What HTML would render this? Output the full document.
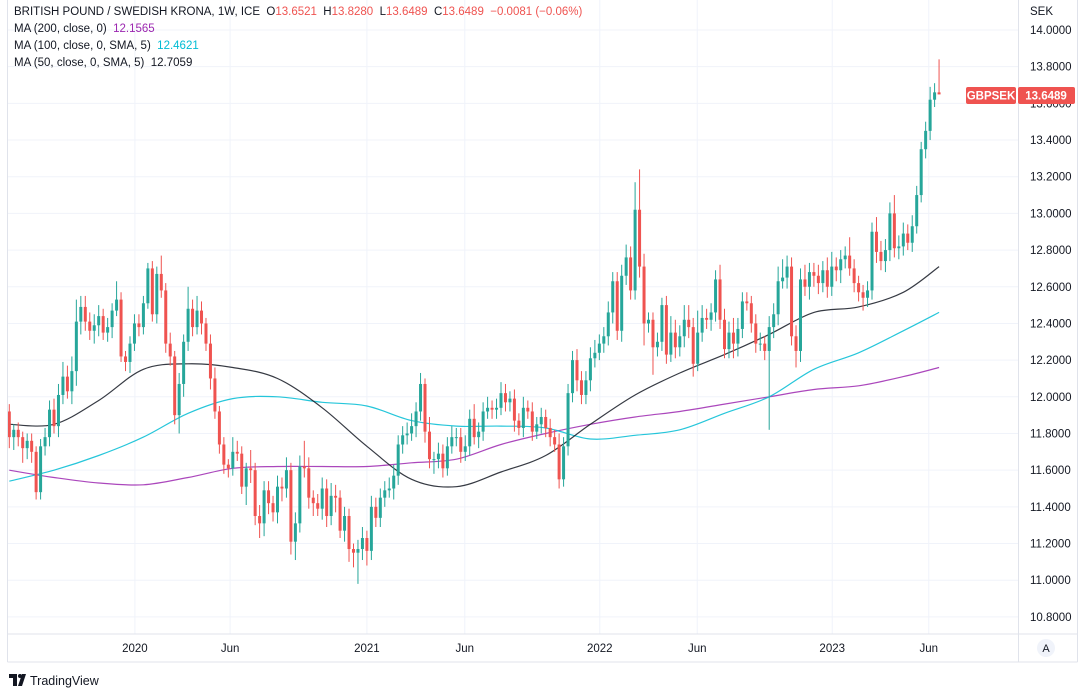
<!DOCTYPE html>
<html><head><meta charset="utf-8">
<style>
html,body{margin:0;padding:0;background:#fff;}
body{width:1078px;height:695px;overflow:hidden;font-family:"Liberation Sans",sans-serif;}
svg{display:block;}
</style></head>
<body>
<svg id="chart" width="1078" height="695" xmlns="http://www.w3.org/2000/svg" font-family="Liberation Sans, sans-serif">
  <g id="grid"></g>
  <g id="mas"></g>
  <g id="candles"></g>
  <g id="axes"></g>
  <g font-size="11.5" fill="#131722">
    <text x="14" y="15">BRITISH POUND / SWEDISH KRONA, 1W, ICE&#160;&#160;O<tspan fill="#ef5350">13.6521</tspan>&#160;&#160;H<tspan fill="#ef5350">13.8280</tspan>&#160;&#160;L<tspan fill="#ef5350">13.6489</tspan>&#160;&#160;C<tspan fill="#ef5350">13.6489</tspan>&#160;&#160;<tspan fill="#ef5350">−0.0081 (−0.06%)</tspan></text>
    <text x="14" y="32">MA (200, close, 0)&#160;&#160;<tspan fill="#9c27b0">12.1565</tspan></text>
    <text x="14" y="49">MA (100, close, 0, SMA, 5)&#160;&#160;<tspan fill="#00bcd4">12.4621</tspan></text>
    <text x="14" y="66">MA (50, close, 0, SMA, 5)&#160;&#160;12.7059</text>
  </g>
  <text x="1030" y="15" font-size="11.5" fill="#131722">SEK</text>
  <g>
    <rect x="966" y="87" width="50" height="17" rx="2" fill="#ef5350"/>
    <text x="991" y="99.5" font-size="11.5" fill="#fff" text-anchor="middle" font-weight="bold">GBPSEK</text>
    <rect x="1018" y="87" width="57" height="17" rx="2" fill="#ef5350"/>
    <text x="1046" y="99.5" font-size="11.5" fill="#fff" text-anchor="middle" font-weight="bold">13.6489</text>
  </g>
  <g>
    <circle cx="1046" cy="648" r="9" fill="#f0f3fa"/>
    <text x="1046" y="652" font-size="11" fill="#131722" text-anchor="middle">A</text>
  </g>
  <g>
    <path d="M9 674 h8 v12 h-4 v-8 h-4z M18 686 l4 -12 h4 l-4 12z" fill="#131722"/>
    <circle cx="20" cy="676" r="2" fill="#131722"/>
    <text x="30" y="685" font-size="12.5" fill="#131722">TradingView</text>
  </g>
</svg>
<script>
const closes=[11.78,11.82,11.78,11.72,11.76,11.70,11.48,11.73,11.78,11.93,11.84,12.01,12.11,12.03,12.14,12.41,12.49,12.41,12.36,12.39,12.44,12.35,12.38,12.47,12.53,12.22,12.19,12.29,12.40,12.38,12.51,12.70,12.45,12.67,12.58,12.29,12.22,11.90,12.07,12.30,12.48,12.38,12.47,12.40,12.29,12.10,11.92,11.74,11.63,11.61,11.70,11.69,11.51,11.61,
11.60,11.35,11.31,11.49,11.42,11.37,11.51,11.50,11.60,11.21,11.31,11.62,11.61,11.45,11.42,11.39,11.50,11.35,11.46,11.45,11.27,11.35,11.17,11.15,11.17,11.23,11.16,11.40,11.34,11.45,11.49,11.50,11.57,11.74,11.79,11.80,11.84,11.92,12.07,11.81,11.66,11.66,11.69,11.61,11.73,11.78,11.78,11.70,11.73,11.88,11.78,11.81,11.92,11.94,
11.93,11.94,12.02,11.97,11.99,11.87,11.83,11.94,11.92,11.81,11.85,11.89,11.83,11.78,11.74,11.55,11.73,12.02,12.20,12.09,12.01,12.09,12.21,12.24,12.29,12.33,12.46,12.63,12.36,12.66,12.76,12.58,13.02,12.71,12.40,12.42,12.27,12.30,12.50,12.23,12.35,12.27,12.33,12.42,12.38,12.18,12.35,12.43,12.42,12.46,12.64,12.42,12.26,12.35,
12.29,12.37,12.52,12.51,12.40,12.29,12.29,12.25,12.38,12.45,12.63,12.65,12.71,12.33,12.25,12.64,12.60,12.68,12.66,12.62,12.69,12.60,12.71,12.69,12.75,12.77,12.70,12.62,12.57,12.54,12.58,12.90,12.79,12.74,12.80,13.00,12.81,12.82,12.89,12.84,12.93,13.10,13.35,13.45,13.62,13.66,13.6489];
const firstOpen=11.92;
const upperWick=[0.04,0.03,0.04,0.03,0.04,0.04,0.03,0.04,0.05,0.05,0.06,0.06,0.08,0.06,0.08,0.12,0.06,0.06,0.05,0.06,0.06,0.04,0.05,0.04,0.10,0.04,0.03,0.04,0.05,0.05,0.04,0.03,0.04,0.04,0.10,0.04,0.06,0.03,0.06,0.04,0.12,0.05,0.08,0.05,0.03,0.05,0.06,0.03,0.04,0.03,0.08,0.06,0.04,0.03,
0.10,0.04,0.06,0.05,0.05,0.04,0.06,0.05,0.07,0.04,0.06,0.06,0.14,0.06,0.04,0.05,0.06,0.05,0.07,0.06,0.04,0.05,0.04,0.03,0.05,0.06,0.04,0.06,0.05,0.05,0.05,0.06,0.06,0.05,0.05,0.06,0.07,0.05,0.06,0.03,0.08,0.04,0.06,0.05,0.05,0.06,0.05,0.05,0.06,0.05,0.08,0.05,0.05,0.06,
0.04,0.05,0.06,0.05,0.04,0.05,0.04,0.06,0.04,0.05,0.04,0.05,0.04,0.05,0.04,0.06,0.05,0.05,0.05,0.06,0.05,0.05,0.06,0.07,0.05,0.05,0.06,0.05,0.05,0.06,0.07,0.06,0.15,0.22,0.07,0.04,0.04,0.05,0.04,0.05,0.09,0.07,0.06,0.08,0.08,0.05,0.12,0.07,0.05,0.05,0.05,0.08,0.06,0.06,
0.08,0.06,0.05,0.05,0.04,0.05,0.06,0.04,0.06,0.06,0.08,0.10,0.06,0.05,0.06,0.06,0.08,0.05,0.05,0.06,0.05,0.07,0.08,0.05,0.05,0.05,0.10,0.05,0.04,0.04,0.05,0.05,0.08,0.06,0.06,0.06,0.10,0.06,0.06,0.05,0.06,0.05,0.04,0.05,0.07,0.05,0.18];
const lowerWick=[0.06,0.07,0.05,0.08,0.06,0.06,0.04,0.04,0.05,0.05,0.04,0.06,0.05,0.04,0.07,0.08,0.07,0.05,0.05,0.07,0.06,0.04,0.05,0.06,0.03,0.03,0.05,0.06,0.04,0.05,0.04,0.03,0.04,0.05,0.04,0.05,0.05,0.05,0.10,0.07,0.05,0.05,0.04,0.06,0.04,0.06,0.04,0.05,0.05,0.05,0.04,0.04,0.04,0.10,
0.07,0.05,0.08,0.07,0.06,0.05,0.06,0.07,0.05,0.07,0.10,0.05,0.05,0.06,0.07,0.04,0.06,0.06,0.05,0.08,0.04,0.06,0.07,0.08,0.17,0.06,0.08,0.05,0.05,0.05,0.05,0.04,0.06,0.05,0.05,0.05,0.04,0.06,0.05,0.06,0.05,0.08,0.05,0.05,0.04,0.04,0.05,0.06,0.05,0.05,0.04,0.06,0.05,0.04,
0.05,0.05,0.04,0.05,0.05,0.06,0.04,0.05,0.04,0.05,0.04,0.05,0.05,0.05,0.04,0.05,0.04,0.05,0.05,0.06,0.05,0.05,0.06,0.05,0.04,0.05,0.05,0.06,0.05,0.06,0.05,0.05,0.05,0.06,0.12,0.05,0.15,0.05,0.05,0.05,0.04,0.06,0.05,0.06,0.06,0.07,0.04,0.05,0.05,0.06,0.05,0.05,0.05,0.05,
0.08,0.07,0.05,0.04,0.05,0.05,0.04,0.05,0.43,0.06,0.06,0.04,0.06,0.05,0.09,0.06,0.05,0.07,0.06,0.06,0.05,0.06,0.05,0.06,0.07,0.05,0.04,0.05,0.05,0.07,0.05,0.05,0.06,0.05,0.06,0.06,0.05,0.06,0.05,0.04,0.05,0.04,0.04,0.05,0.05,0.04,0.00];
const maIndex=[0,10,20,30,40,50,60,70,80,90,100,110,120,130,140,150,160,170,180,190,200,208];
const ma50=[11.85,11.85,11.98,12.15,12.18,12.16,12.10,11.94,11.73,11.55,11.51,11.59,11.68,11.85,12.01,12.13,12.23,12.34,12.46,12.49,12.57,12.71];
const ma100=[11.54,11.60,11.68,11.78,11.91,11.99,12.00,11.97,11.95,11.87,11.84,11.84,11.83,11.77,11.79,11.82,11.91,12.00,12.15,12.24,12.36,12.46];
const ma200=[11.60,11.56,11.53,11.52,11.56,11.61,11.62,11.62,11.62,11.64,11.66,11.74,11.80,11.85,11.89,11.92,11.96,12.00,12.04,12.06,12.11,12.16];
const yTicks=[10.8,11.0,11.2,11.4,11.6,11.8,12.0,12.2,12.4,12.6,12.8,13.0,13.2,13.4,13.6,13.8,14.0];
const timeLabels=["2020","Jun","2021","Jun","2022","Jun","2023","Jun"];
const timeIndex=[28.1,49.4,80.0,101.9,132.1,153.9,184.1,205.7];

const NS="http://www.w3.org/2000/svg";
const PL=7,PR=1018,PT=0,PB=634;
function xOf(i){return 9.3+4.47*i;}
function yOf(v){return 30+(14-v)*183.4;}
function mk(tag,attrs,parent){const e=document.createElementNS(NS,tag);for(const k in attrs)e.setAttribute(k,attrs[k]);parent.appendChild(e);return e;}

const grid=document.getElementById('grid');
const axes=document.getElementById('axes');
yTicks.forEach(v=>{
  const y=yOf(v);
  const gl=mk('line',{x1:PL,x2:PR,y1:y,y2:y,stroke:'#f0f3fa','stroke-width':1},grid);
  
  
  const t=mk('text',{x:1030,y:y+4,'font-size':11.5,fill:'#131722'},axes);
  t.textContent=v.toFixed(4);
  
  
});
timeLabels.forEach((lab,k)=>{
  const x=xOf(timeIndex[k]);
  const gl=mk('line',{x1:x,x2:x,y1:PT,y2:PB,stroke:'#f0f3fa','stroke-width':1},grid);
  
  
  const t=mk('text',{x:x,y:652,'font-size':11.5,fill:'#131722','text-anchor':'middle'},axes);
  t.textContent=lab;
  
  
});
[[PL,0,PL,662],[PR,0,PR,662],[PL,PB,1077,PB],[PL,662,1077,662],[1077,0,1077,662]].forEach(a=>{
  const l=mk('line',{x1:a[0]+0.5,y1:a[1],x2:a[2]+0.5,y2:a[3],stroke:'#e0e3eb','stroke-width':1},axes);
  
  
});

function smoothPath(pts){
  let d='M'+pts[0][0].toFixed(1)+','+pts[0][1].toFixed(1);
  for(let i=0;i<pts.length-1;i++){
    const p0=pts[Math.max(0,i-1)],p1=pts[i],p2=pts[i+1],p3=pts[Math.min(pts.length-1,i+2)];
    const c1x=p1[0]+(p2[0]-p0[0])/6,c1y=p1[1]+(p2[1]-p0[1])/6;
    const c2x=p2[0]-(p3[0]-p1[0])/6,c2y=p2[1]-(p3[1]-p1[1])/6;
    d+=' C'+c1x.toFixed(1)+','+c1y.toFixed(1)+' '+c2x.toFixed(1)+','+c2y.toFixed(1)+' '+p2[0].toFixed(1)+','+p2[1].toFixed(1);
  }
  return d;
}
const mas=document.getElementById('mas');
[[ma200,'#9c27b0','ma200-line'],[ma100,'#00bcd4','ma100-line'],[ma50,'#131722','ma50-line']].forEach(s=>{
  const pts=s[0].map((v,k)=>[xOf(maIndex[k]),yOf(v)]);
  const p=mk('path',{d:smoothPath(pts),fill:'none',stroke:s[1],'stroke-width':1.2,'stroke-linejoin':'round',opacity:0.85},mas);
  
  
});

const cg=document.getElementById('candles');
closes.forEach((c,i)=>{
  const o=i===0?firstOpen:closes[i-1];
  const hi=Math.max(o,c)+upperWick[i], lo=Math.min(o,c)-lowerWick[i];
  const col=c>=o?'#26a69a':'#ef5350';
  const x=xOf(i);
  const g=mk('g',{},cg);
  
  
  mk('line',{x1:x,x2:x,y1:yOf(hi),y2:yOf(lo),stroke:col,'stroke-width':1},g);
  const yt=yOf(Math.max(o,c)), yb=yOf(Math.min(o,c));
  mk('rect',{x:x-1.5,y:yt,width:3,height:Math.max(1,yb-yt),fill:col},g);
});
</script>
</body></html>
